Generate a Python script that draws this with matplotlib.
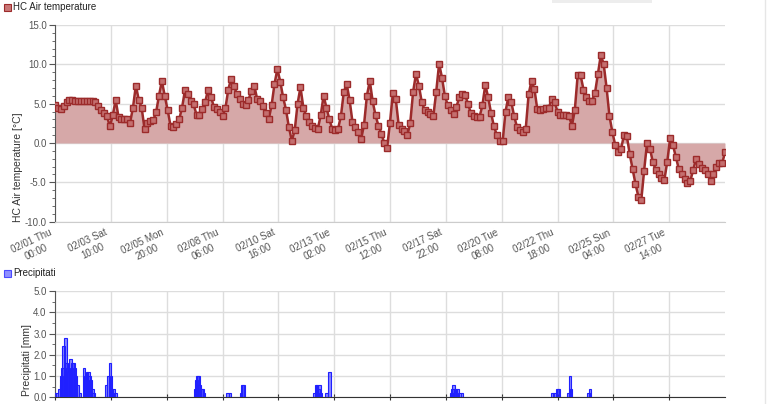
import numpy as np
import matplotlib
matplotlib.use('Agg')
import matplotlib.pyplot as plt
from matplotlib.patches import Rectangle
from matplotlib.lines import Line2D
from matplotlib.ticker import MultipleLocator, FormatStrFormatter
from matplotlib.transforms import ScaledTranslation

plt.rcParams['font.family'] = ['Liberation Sans', 'DejaVu Sans']

# ---- data ----
temp_step_hours = 3  # readings every 3 hours starting 02/01 00:00
temps = [
    4.8, 4.5, 4.3, 4.7, 5.2, 5.5, 5.5, 5.4, 5.4, 5.4, 5.4, 5.4, 5.3, 5.3, 5.2, 4.7,
    4.2, 3.8, 3.4, 2.1, 3.5, 5.5, 3.3, 3.1, 3.0, 3.0, 2.6, 4.5, 7.3, 5.5, 4.5, 1.8,
    2.6, 2.8, 2.9, 3.9, 6.0, 7.9, 6.0, 4.2, 2.2, 2.0, 2.4, 3.0, 4.5, 6.7, 6.2, 5.4,
    4.9, 3.6, 3.6, 4.3, 5.2, 6.8, 5.9, 4.6, 4.3, 3.9, 3.4, 4.4, 6.8, 8.2, 7.2, 6.2,
    5.6, 5.0, 4.8, 5.5, 6.6, 7.3, 5.6, 5.3, 4.7, 3.8, 3.0, 4.8, 7.5, 9.4, 7.8, 5.8,
    4.2, 2.0, 0.3, 1.6, 5.0, 7.1, 4.5, 3.4, 2.7, 2.2, 1.9, 1.8, 3.5, 6.0, 4.5, 3.0,
    1.8, 1.6, 1.8, 3.4, 6.5, 7.5, 5.5, 2.7, 2.0, 1.4, 0.5, 2.3, 6.0, 7.9, 5.3, 3.5,
    2.2, 1.2, 0.0, -0.6, 2.6, 6.4, 5.6, 2.3, 1.8, 1.5, 1.0, 2.5, 6.5, 8.8, 7.3, 5.2,
    4.2, 4.0, 3.7, 3.4, 6.5, 10.1, 8.3, 6.0, 4.8, 4.2, 3.7, 4.6, 5.8, 6.2, 6.1, 5.0,
    3.8, 3.4, 3.3, 3.3, 4.8, 7.4, 5.8, 3.8, 2.1, 1.0, 0.3, 0.2, 4.0, 5.9, 5.2, 3.4,
    2.0, 1.6, 1.4, 1.8, 6.2, 7.9, 6.9, 4.3, 4.2, 4.3, 4.4, 4.5, 5.6, 5.2, 4.0, 3.5,
    3.5, 3.5, 3.4, 2.2, 4.2, 8.7, 8.6, 6.8, 5.9, 5.3, 5.4, 6.4, 8.8, 11.2, 10.0, 7.0,
    3.4, 1.4, -0.3, -1.2, -0.8, 1.0, 0.9, -1.4, -3.3, -5.2, -6.8, -7.3, -3.5, 0.0, -0.7, -2.4,
    -3.4, -3.9, -4.4, -4.7, -2.4, 0.6, -0.3, -1.8, -3.3, -4.0, -4.6, -5.1, -4.8, -3.4, -2.0, -2.7,
    -3.2, -3.4, -4.0, -4.8, -4.0, -3.1, -2.6, -2.6, -1.2,
]

precip_hours = [
    0, 2, 4, 6, 7, 8, 9, 11, 12, 13, 14, 16, 17, 18, 19, 21, 22, 24, 26,
    30, 31, 33, 35, 36, 37, 39, 40,
    53, 55, 57, 58, 59, 61, 63,
    146, 147, 148, 149, 150, 152, 153, 155,
    179, 182, 193, 195, 196,
    269, 271, 272, 274, 275, 276, 282, 285,
    412, 413, 414, 415, 416, 418, 420, 423,
    517, 519, 522, 523, 533, 535, 536, 554, 556,
]
precip_mm = [
    0.2, 0.2, 0.4, 0.6, 1.0, 1.4, 2.4, 2.8, 1.6, 1.4, 1.2, 1.8, 1.4, 1.6, 1.6, 1.4, 1.0, 0.6, 0.2,
    1.4, 1.0, 1.2, 1.2, 1.0, 0.8, 0.4, 0.2,
    0.6, 1.0, 1.6, 1.0, 0.4, 0.4, 0.2,
    0.4, 0.8, 1.0, 1.0, 0.6, 0.4, 0.4, 0.2,
    0.2, 0.2, 0.2, 0.6, 0.6,
    0.2, 0.6, 0.6, 0.4, 0.6, 0.2, 0.2, 1.2,
    0.2, 0.4, 0.6, 0.2, 0.4, 0.4, 0.2, 0.2,
    0.2, 0.2, 0.4, 0.4, 0.2, 1.0, 0.4, 0.2, 0.4,
]

tick_hours = [0, 58, 116, 174, 232, 290, 348, 406, 464, 522, 580, 638]
tick_labels = [
    "02/01 Thu\n00:00", "02/03 Sat\n10:00", "02/05 Mon\n20:00", "02/08 Thu\n06:00",
    "02/10 Sat\n16:00", "02/13 Tue\n02:00", "02/15 Thu\n12:00", "02/17 Sat\n22:00",
    "02/20 Tue\n08:00", "02/22 Thu\n18:00", "02/25 Sun\n04:00", "02/27 Tue\n14:00",
]
x_end_hours = 696

temp_hours = np.arange(len(temps)) * temp_step_hours

# ---- figure ----
W, H = 768, 404
fig = plt.figure(figsize=(W / 100, H / 100), dpi=100)

def axrect(x0, y0, x1, y1):
    return [x0 / W, 1 - y1 / H, (x1 - x0) / W, (y1 - y0) / H]

label_col = '#555555'
grid_col = '#dddddd'

ax1 = fig.add_axes(axrect(55, 25, 725, 221.7))
ax1.fill_between(temp_hours, temps, 0, color='#d6a8a8', linewidth=0, zorder=2)
ax1.plot(temp_hours, temps, color='#9c2b2b', lw=1.8, zorder=3)
ax1.plot(temp_hours, temps, linestyle='none', marker='s', ms=4.6,
         mfc='#c46f6f', mec='#9c2b2b', mew=1.0, zorder=4)
ax1.set_xlim(0, x_end_hours)
ax1.set_ylim(-10, 15)
ax1.yaxis.set_major_locator(MultipleLocator(5))
ax1.yaxis.set_minor_locator(MultipleLocator(1))
ax1.yaxis.set_major_formatter(FormatStrFormatter('%.1f'))
ax1.set_xticks(tick_hours)
ax1.set_xticklabels(tick_labels, rotation=25, ha='right', va='top',
                    rotation_mode='anchor', fontsize=7, color=label_col,
                    multialignment='center')
ax1.tick_params(axis='x', length=0, pad=5)
offset = ScaledTranslation(-6 / 100, 1 / 100, fig.dpi_scale_trans)
for lab in ax1.get_xticklabels():
    lab.set_transform(lab.get_transform() + offset)
ax1.tick_params(axis='y', which='major', length=4, width=0.8, color='#555555',
                labelsize=7, labelcolor=label_col, pad=2)
ax1.tick_params(axis='y', which='minor', length=2, width=0.6, color='#555555')
ax1.grid(True, which='major', color=grid_col, lw=1, zorder=0)
ax1.set_axisbelow(True)
for s in ['top', 'right']:
    ax1.spines[s].set_visible(False)
ax1.spines['bottom'].set_color('#cccccc')
ax1.spines['left'].set_color('#555555')
ax1.spines['left'].set_linewidth(0.8)
ax1.set_ylabel('HC Air temperature [°C]', fontsize=7.5, color='#333333')
ax1.yaxis.set_label_coords((23 - 55) / 670, (221.7 - 167) / 196.7)

ax2 = fig.add_axes(axrect(55, 291, 725, 397.3))
ax2.bar(precip_hours, precip_mm, width=2.6, align='center',
        color=(0.15, 0.15, 1.0, 0.55), edgecolor='#2020ff', linewidth=0.8, zorder=3)
ax2.set_xlim(0, x_end_hours)
ax2.set_ylim(0, 5)
ax2.yaxis.set_major_locator(MultipleLocator(1))
ax2.yaxis.set_minor_locator(MultipleLocator(0.5))
ax2.yaxis.set_major_formatter(FormatStrFormatter('%.1f'))
ax2.set_xticks(tick_hours)
ax2.set_xticklabels([])
ax2.tick_params(axis='x', direction='inout', length=5, width=0.8, color='#333333')
ax2.tick_params(axis='y', which='major', length=4, width=0.8, color='#555555',
                labelsize=7, labelcolor=label_col, pad=2)
ax2.tick_params(axis='y', which='minor', length=2, width=0.6, color='#555555')
ax2.grid(True, which='major', color=grid_col, lw=1, zorder=0)
ax2.set_axisbelow(True)
for s in ['top', 'right']:
    ax2.spines[s].set_visible(False)
ax2.spines['bottom'].set_color('#333333')
ax2.spines['left'].set_color('#555555')
ax2.spines['left'].set_linewidth(0.8)
ax2.set_ylabel('Precipitati [mm]', fontsize=7.5, color='#333333')
ax2.yaxis.set_label_coords((32 - 55) / 670, (397.3 - 360) / 106.3)

# legends
fig.patches.append(Rectangle((4 / W, 1 - 11 / H), 7 / W, 7 / H, transform=fig.transFigure,
                             facecolor='#c97777', edgecolor='#9c2b2b', lw=0.8))
fig.text(13 / W, 1 - 7.5 / H, 'HC Air temperature', fontsize=7, color='#222222', va='center')
fig.patches.append(Rectangle((4 / W, 1 - 277 / H), 7 / W, 7 / H, transform=fig.transFigure,
                             facecolor='#8f8fff', edgecolor='#4a4aff', lw=0.8))
fig.text(13 / W, 1 - 273.5 / H, 'Precipitati', fontsize=7, color='#222222', va='center')

# faint page decorations (panel border, tooltip shadow)
fig.add_artist(Line2D([765 / W, 765 / W], [0, 1], transform=fig.transFigure,
                      color='#e6e6e6', lw=1))
fig.patches.append(Rectangle((552 / W, 1 - 3 / H), 100 / W, 3 / H, transform=fig.transFigure,
                             facecolor='#ededed', edgecolor='none'))

fig.savefig('out.png', dpi=100)
